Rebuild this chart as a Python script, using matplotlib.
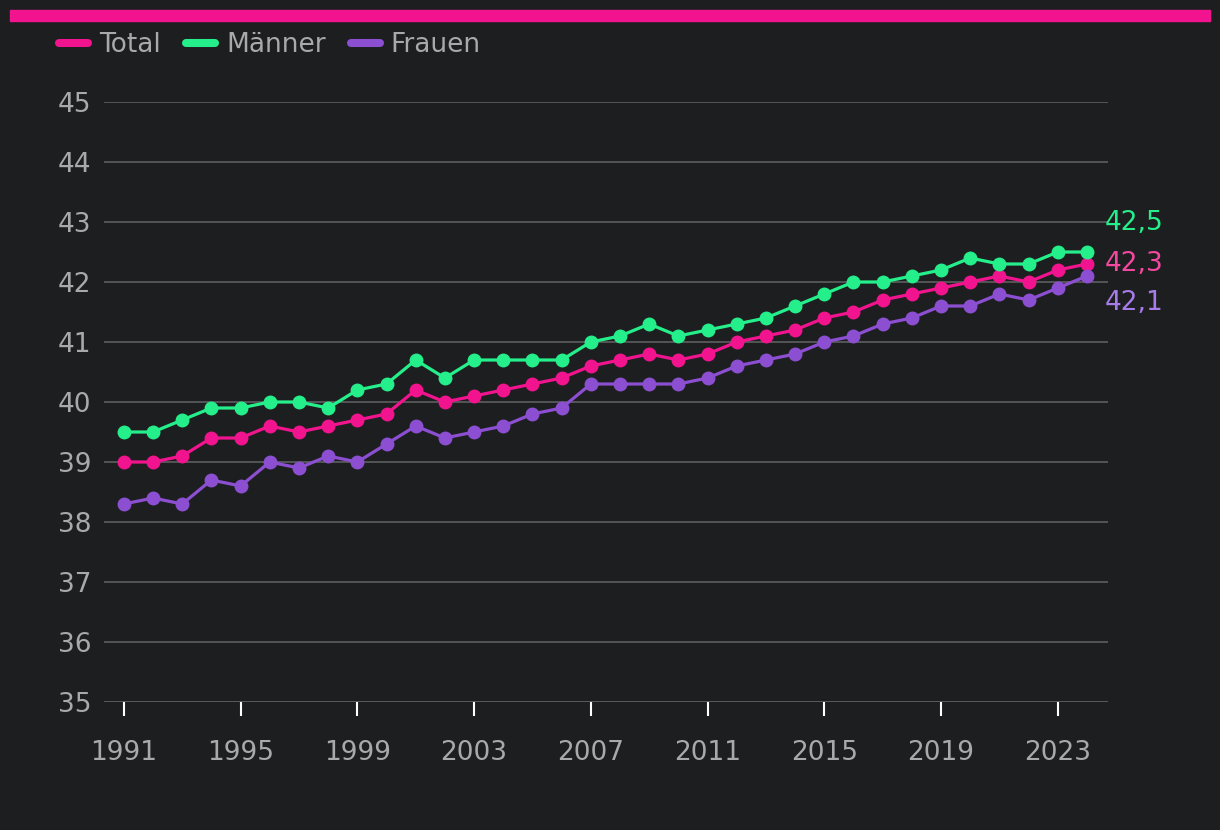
"""
Durchschnittsalter der Bevölkerung 1991-2024: Total, Männer, Frauen.
Dark theme line chart, written to out.png.
"""

import matplotlib

matplotlib.use("Agg")

import matplotlib.pyplot as plt
from matplotlib.lines import Line2D

# ---------------------------------------------------------------------------
# Data
# ---------------------------------------------------------------------------

YEARS = list(range(1991, 2025))

TOTAL = [39.0, 39.0, 39.1, 39.4, 39.4, 39.6, 39.5, 39.6, 39.7, 39.8,
         40.2, 40.0, 40.1, 40.2, 40.3, 40.4, 40.6, 40.7, 40.8, 40.7,
         40.8, 41.0, 41.1, 41.2, 41.4, 41.5, 41.7, 41.8, 41.9, 42.0,
         42.1, 42.0, 42.2, 42.3]

MAENNER = [39.5, 39.5, 39.7, 39.9, 39.9, 40.0, 40.0, 39.9, 40.2, 40.3,
           40.7, 40.4, 40.7, 40.7, 40.7, 40.7, 41.0, 41.1, 41.3, 41.1,
           41.2, 41.3, 41.4, 41.6, 41.8, 42.0, 42.0, 42.1, 42.2, 42.4,
           42.3, 42.3, 42.5, 42.5]

FRAUEN = [38.3, 38.4, 38.3, 38.7, 38.6, 39.0, 38.9, 39.1, 39.0, 39.3,
          39.6, 39.4, 39.5, 39.6, 39.8, 39.9, 40.3, 40.3, 40.3, 40.3,
          40.4, 40.6, 40.7, 40.8, 41.0, 41.1, 41.3, 41.4, 41.6, 41.6,
          41.8, 41.7, 41.9, 42.1]

XTICKS = list(range(1991, 2024, 4))
YTICKS = list(range(35, 46))

# ---------------------------------------------------------------------------
# Style
# ---------------------------------------------------------------------------

BG = "#1d1e20"
TXT = "#a9a9ab"
GRID = "#58595b"
FS = 19

SERIES = [
    ("Total", TOTAL, "#f2148e", "#f4479f", 0),
    ("Männer", MAENNER, "#25ef8b", "#25ef8b", 29),
    ("Frauen", FRAUEN, "#8c4fd2", "#a77be9", -27),
]

plt.rcParams["font.family"] = ["DejaVu Sans"]

fig = plt.figure(figsize=(12.2, 8.3), dpi=100, facecolor=BG)
ax = fig.add_axes([104 / 1220, 1 - 702 / 830, 1004 / 1220, 600 / 830])
ax.set_facecolor(BG)

# accent bar at the very top
fig.patches.append(plt.Rectangle((10 / 1220, 1 - 21 / 830), 1200 / 1220, 11 / 830,
                                 transform=fig.transFigure, color="#f2148e",
                                 zorder=5))

for name, vals, col, lab_col, dy in SERIES:
    ax.plot(YEARS, vals, color=col, linewidth=2.3, marker="o", markersize=9,
            zorder=3, solid_capstyle="round")
    ax.annotate(f"{vals[-1]:.1f}".replace(".", ","),
                xy=(YEARS[-1], vals[-1]), xytext=(18, dy),
                textcoords="offset pixels", color=lab_col, fontsize=FS,
                va="center", ha="left", annotation_clip=False)

ax.set_xlim(1990.32, 2024.72)
ax.set_ylim(35, 45)
ax.set_yticks(YTICKS)
ax.set_xticks(XTICKS)
ax.grid(axis="y", color=GRID, linewidth=1.3)
ax.set_axisbelow(True)
for s in ax.spines.values():
    s.set_visible(False)
ax.axhline(35, color=GRID, linewidth=1.3, zorder=1)

ax.tick_params(axis="y", length=0, pad=9, labelsize=FS, labelcolor=TXT)
ax.tick_params(axis="x", length=10, width=1.5, color="white", pad=17,
               labelsize=FS, labelcolor=TXT)

handles = [Line2D([0], [0], color=c, linewidth=5.8, solid_capstyle="round")
           for _, _, c, _, _ in SERIES]
leg = fig.legend(handles, [s[0] for s in SERIES], loc="upper left",
                 bbox_to_anchor=(59 / 1220, 1 - 32 / 830), ncol=3, frameon=False,
                 fontsize=FS, labelcolor=TXT, handlelength=1.1,
                 handletextpad=0.42, columnspacing=0.95, borderaxespad=0,
                 borderpad=0)

fig.savefig("out.png", dpi=100, facecolor=BG)
